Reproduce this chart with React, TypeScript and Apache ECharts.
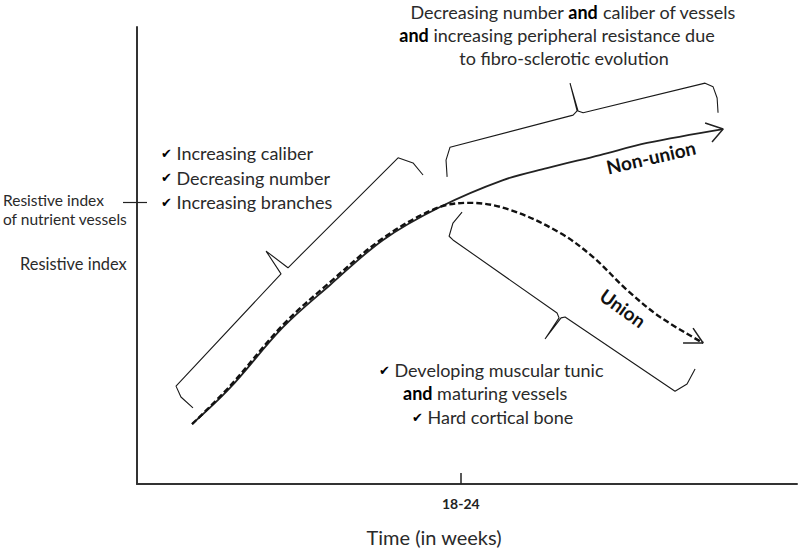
import { useEffect, useRef } from "react";
import * as echarts from "echarts";

// ---- axes ----
const weeksTickValue = 21;
const weeksTickLabel = "18-24";
const riTickValue = 0.608;
const riTickLabel = ["Resistive index", "of nutrient vessels"];
const yAxisName = "Resistive index";
const xAxisName = "Time (in weeks)";

// ---- curves: [week, resistive index] ----
const nonUnionCurve: [number, number][] = [
  [3.57, 0.129], [6.03, 0.207], [9.47, 0.338], [12.52, 0.429], [15.96, 0.526],
  [19.65, 0.597], [23.74, 0.655], [26.59, 0.681], [30.03, 0.709], [33.08, 0.735],
  [38.01, 0.765],
];
const unionCurve: [number, number][] = [
  [3.57, 0.129], [6.03, 0.211], [9.47, 0.343], [12.52, 0.435], [15.96, 0.53],
  [19.46, 0.595], [21.6, 0.606], [24.19, 0.591], [27.44, 0.541], [29.58, 0.489],
  [31.78, 0.418], [33.92, 0.36], [36.71, 0.304],
];
const nonUnionArrow: [number, number][] = [[36.84, 0.778], [38.01, 0.765], [37.29, 0.737]];
const unionArrow: [number, number][] = [[35.41, 0.304], [36.71, 0.304], [36.06, 0.336]];

// ---- braces: [week, resistive index] ----
const braceHealing: [number, number][] = [
  [3.63, 0.164], [2.85, 0.1875], [2.53, 0.211], [9.34, 0.453], [8.37, 0.502],
  [9.79, 0.466], [16.93, 0.703], [17.9, 0.692], [18.55, 0.666],
];
const braceNonUnion: [number, number][] = [
  [20.11, 0.662], [20.04, 0.698], [20.3, 0.726], [28.28, 0.795], [28.54, 0.804],
  [28.08, 0.864], [28.6, 0.804], [28.93, 0.8], [36.84, 0.864], [37.36, 0.856],
  [37.62, 0.832], [37.68, 0.8],
];
const braceUnion: [number, number][] = [
  [21.08, 0.586], [20.49, 0.5625], [20.24, 0.534], [20.49, 0.526], [27.24, 0.3685],
  [27.37, 0.358], [26.46, 0.3125], [27.5, 0.358], [27.76, 0.36], [34.89, 0.2],
  [35.67, 0.2155], [36.19, 0.248],
];

// ---- notes ----
const earlyNotes = ["Increasing caliber", "Decreasing number", "Increasing branches"];
const nonUnionNotes = [
  "Decreasing number {a|and} caliber of vessels",
  "{a|and} increasing peripheral resistance due",
  "to fibro-sclerotic evolution",
];
const unionNotes = ["{c|✔} Developing muscular tunic", "{a|and} maturing vessels", "{c|✔} Hard cortical bone"];
const nonUnionName = "Non-union";
const unionName = "Union";

const FONT = "Lato, 'DejaVu Sans', sans-serif";
const TXT = "#2a2a2a";

function txt(x: number, y: number, text: string, align: string, size = 18, extra: any = {}) {
  return {
    type: "text",
    x,
    y,
    silent: true,
    style: {
      text,
      fill: TXT,
      fontFamily: FONT,
      fontSize: size,
      align,
      textAlign: align,
      verticalAlign: "middle",
      textVerticalAlign: "middle",
      rich: {
        a: { fontFamily: FONT, fontSize: size, fontWeight: "bold", fill: "#000", color: "#000" },
        c: { fontFamily: "'DejaVu Sans', sans-serif", fontSize: 13, fill: "#000", color: "#000" },
      },
      ...extra,
    },
  };
}

export default function App() {
  const ref = useRef<HTMLDivElement>(null);
  useEffect(() => {
    if (!ref.current) return;
    const chart = echarts.init(ref.current, null, { renderer: "svg" });
    const lineSeries = (data: [number, number][], lineStyle: any, smooth: any = false) => ({
      type: "line",
      data,
      smooth,
      showSymbol: false,
      symbol: "none",
      silent: true,
      lineStyle,
      xAxisIndex: 0,
      yAxisIndex: 0,
    });
    const thin = { color: "#1a1a1a", width: 1.1 };
    chart.setOption({
      animation: false,
      backgroundColor: "#fff",
      grid: { left: 137, top: 27, right: 3, bottom: 69 },
      xAxis: {
        type: "value",
        min: 0,
        max: 42.8,
        axisLine: { show: true, lineStyle: { color: "#333", width: 2 } },
        axisTick: { show: true, customValues: [weeksTickValue], inside: true, length: 11, lineStyle: { color: "#222", width: 1.5 } },
        axisLabel: {
          show: true,
          customValues: [weeksTickValue],
          formatter: () => weeksTickLabel,
          margin: 12,
          fontFamily: FONT,
          fontSize: 14,
          fontWeight: "bold",
          color: "#222",
        },
        splitLine: { show: false },
      },
      yAxis: [
        {
          type: "value",
          min: 0,
          max: 0.985,
          position: "left",
          axisLine: { show: true, lineStyle: { color: "#333", width: 2 } },
          axisTick: { show: true, customValues: [riTickValue], inside: false, length: 14, lineStyle: { color: "#222", width: 1.2 } },
          axisLabel: { show: false },
          splitLine: { show: false },
        },
        {
          type: "value",
          min: 0,
          max: 0.985,
          position: "left",
          axisLine: { show: false },
          axisTick: { show: true, customValues: [riTickValue], inside: true, length: 10, lineStyle: { color: "#222", width: 1.2 } },
          axisLabel: { show: false },
          splitLine: { show: false },
        },
      ],
      series: [
        lineSeries(nonUnionCurve, { color: "#222", width: 1.8 }, 0.35),
        lineSeries(unionCurve, { color: "#111", width: 2.4, type: [6, 3] }, 0.35),
        lineSeries(nonUnionArrow, { color: "#222", width: 1.5 }),
        lineSeries(unionArrow, { color: "#222", width: 1.5 }),
        lineSeries(braceHealing, thin),
        lineSeries(braceNonUnion, thin),
        lineSeries(braceUnion, thin),
      ],
      graphic: [
        txt(3, 209, riTickLabel.join("\n"), "left", 15.5, { lineHeight: 19 }),
        txt(20, 263, yAxisName, "left", 16.4),
        txt(434, 537, xAxisName, "center", 20),
        ...earlyNotes.map((n, i) => txt(161, 153 + i * 24.5, "{c|✔} " + n, "left")),
        txt(573, 12, nonUnionNotes[0], "center"),
        txt(557, 35, nonUnionNotes[1], "center"),
        txt(564, 58, nonUnionNotes[2], "center"),
        txt(379, 370, unionNotes[0], "left"),
        txt(403, 393, unionNotes[1], "left"),
        txt(412, 417, unionNotes[2], "left"),
        {
          type: "text",
          x: 651,
          y: 157,
          rotation: 0.224,
          silent: true,
          style: {
            text: nonUnionName, fill: "#111", fontFamily: FONT, fontSize: 19, fontWeight: "bold",
            align: "center", textAlign: "center", verticalAlign: "middle", textVerticalAlign: "middle",
          },
        },
        {
          type: "text",
          x: 623,
          y: 308,
          rotation: -0.62,
          silent: true,
          style: {
            text: unionName, fill: "#111", fontFamily: FONT, fontSize: 19, fontWeight: "bold",
            align: "center", textAlign: "center", verticalAlign: "middle", textVerticalAlign: "middle",
          },
        },
      ],
    });
    return () => chart.dispose();
  }, []);
  return <div ref={ref} style={{ width: 800, height: 553, position: "fixed", left: 0, top: 0 }} />;
}
